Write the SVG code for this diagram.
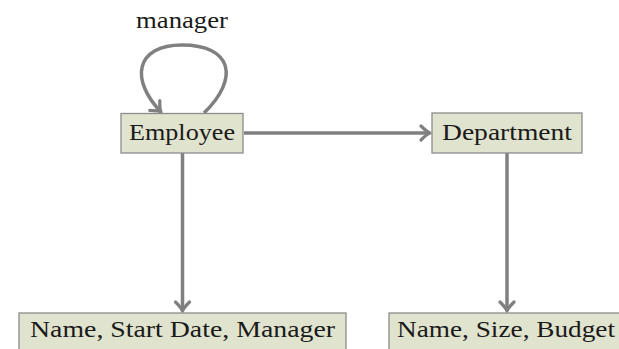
<svg xmlns="http://www.w3.org/2000/svg" width="619" height="349" viewBox="0 0 619 349">
  <style>
    .box { fill: #e0e3cd; stroke: #8c8c8c; stroke-width: 1.3; }
    .lbl { font-size: 24px; fill: #1a1a1a; text-anchor: middle; }
    .edge { fill: none; stroke: #808080; stroke-width: 3.5; marker-end: url(#head); }
  </style>
  <defs>
    <marker id="head" markerUnits="userSpaceOnUse" markerWidth="24" markerHeight="24" viewBox="-12 -12 24 24" refX="0" refY="0" orient="auto">
      <path d="M-9,-7 Q-3,-1 0,0 Q-3,1 -9,7" fill="none" stroke="#808080" stroke-width="3.2" stroke-linecap="round" stroke-linejoin="round"/>
    </marker>
  </defs>

  <g id="connectors">
    <path class="edge" d="M204,113 C 240,78 232,45 182,45 C 135,45 130,80 161,112"/>
    <path class="edge" d="M244,133 L430,133"/>
    <path class="edge" d="M182.5,153 L182.5,311"/>
    <path class="edge" d="M507,153 L507,311"/>
  </g>

  <g font-family="'Liberation Serif', 'Times New Roman', 'DejaVu Serif', serif">
    <text class="lbl" x="182" y="28" textLength="92" lengthAdjust="spacingAndGlyphs">manager</text>

    <g id="employee">
      <rect class="box" x="121" y="113.5" width="122" height="39.5"/>
      <text class="lbl" x="182" y="140" textLength="106" lengthAdjust="spacingAndGlyphs">Employee</text>
    </g>

    <g id="department">
      <rect class="box" x="432" y="113" width="150" height="40"/>
      <text class="lbl" x="507" y="139.5" textLength="130" lengthAdjust="spacingAndGlyphs">Department</text>
    </g>

    <g id="employee-attrs">
      <rect class="box" x="19" y="313" width="327" height="42"/>
      <text class="lbl" x="182.5" y="336.5" textLength="305" lengthAdjust="spacingAndGlyphs">Name, Start Date, Manager</text>
    </g>

    <g id="department-attrs">
      <rect class="box" x="389" y="313" width="236" height="42"/>
      <text class="lbl" x="506" y="336.5" textLength="218" lengthAdjust="spacingAndGlyphs">Name, Size, Budget</text>
    </g>
  </g>
</svg>
